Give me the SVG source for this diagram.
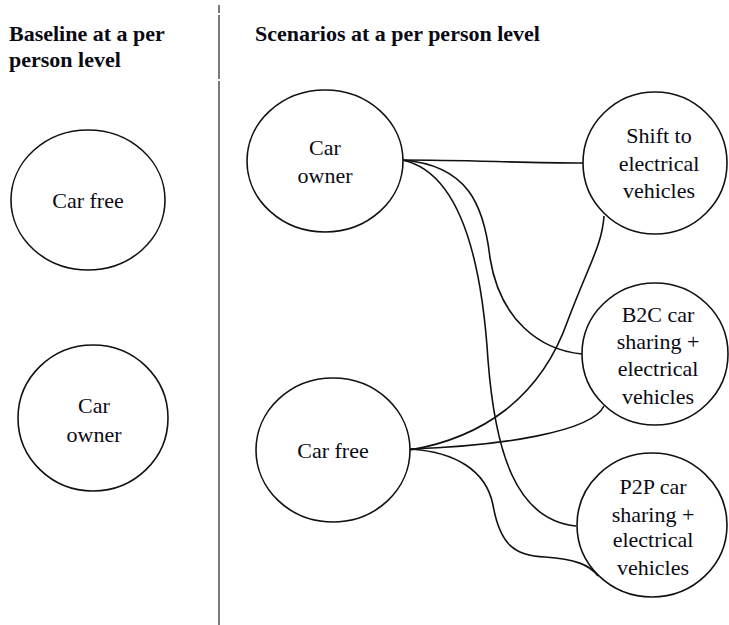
<svg xmlns="http://www.w3.org/2000/svg" width="729" height="625" viewBox="0 0 729 625">
  <style>
    .node { fill: #ffffff; stroke: #111111; stroke-width: 1.6; }
    .label { font-family: "Liberation Serif", "DejaVu Serif", serif; font-size: 22px; font-weight: normal; fill: #0a0a14; text-anchor: middle; }
    .title { font-family: "Liberation Serif", "DejaVu Serif", serif; font-size: 22px; font-weight: bold; fill: #0a0a14; }
    .edge { fill: none; stroke: #111111; stroke-width: 1.6; }
    .divider { stroke: #7a7a7a; stroke-width: 2; }
  </style>
  <rect width="729" height="625" fill="#ffffff"/>

  <!-- column divider -->
  <g id="divider">
    <line class="divider" x1="219" y1="5" x2="219" y2="13"/>
    <line class="divider" x1="219" y1="15" x2="219" y2="79"/>
    <line class="divider" x1="219" y1="81" x2="219" y2="625"/>
  </g>

  <!-- column headings -->
  <g id="headings">
    <text class="title" x="9" y="41">Baseline at a per</text>
    <text class="title" x="9" y="67">person level</text>
    <text class="title" x="255" y="41">Scenarios at a per person level</text>
  </g>

  <!-- connectors -->
  <g id="connectors">
    <path class="edge" d="M402,160 C470,160 520,163 583,163"/>
    <path class="edge" d="M402,160 C468,165 484,205 490,258 C500,320 540,350 582,354"/>
    <path class="edge" d="M402,160 C462,172 482,265 488,360 C495,450 515,520 576,526"/>
    <path class="edge" d="M410,450 C480,438 540,400 568,320 C590,262 602,245 604,216"/>
    <path class="edge" d="M410,449 C500,446 592,432 604,406"/>
    <path class="edge" d="M410,449 C455,452 486,470 493,505 C500,545 515,556 545,557 C575,559 590,565 598,576"/>
  </g>

  <!-- baseline nodes -->
  <g id="baseline-car-free">
    <ellipse class="node" cx="88" cy="200" rx="77" ry="70"/>
    <text class="label" x="88" y="208">Car free</text>
  </g>
  <g id="baseline-car-owner">
    <ellipse class="node" cx="93" cy="418" rx="75" ry="73"/>
    <text class="label" x="94" y="413">Car</text>
    <text class="label" x="94" y="442">owner</text>
  </g>

  <!-- scenario nodes -->
  <g id="scenario-car-owner">
    <ellipse class="node" cx="325" cy="161" rx="78" ry="71"/>
    <text class="label" x="325" y="155">Car</text>
    <text class="label" x="325" y="183">owner</text>
  </g>
  <g id="scenario-car-free">
    <ellipse class="node" cx="333" cy="450" rx="77" ry="72"/>
    <text class="label" x="333" y="458">Car free</text>
  </g>
  <g id="shift-ev">
    <ellipse class="node" cx="655" cy="163" rx="72" ry="71"/>
    <text class="label" x="659" y="143">Shift to</text>
    <text class="label" x="659" y="171">electrical</text>
    <text class="label" x="659" y="198">vehicles</text>
  </g>
  <g id="b2c-ev">
    <ellipse class="node" cx="655" cy="354" rx="73" ry="71"/>
    <text class="label" x="658" y="322">B2C car</text>
    <text class="label" x="658" y="349">sharing +</text>
    <text class="label" x="658" y="376">electrical</text>
    <text class="label" x="658" y="404">vehicles</text>
  </g>
  <g id="p2p-ev">
    <ellipse class="node" cx="652" cy="525" rx="75" ry="72"/>
    <text class="label" x="653" y="494">P2P car</text>
    <text class="label" x="653" y="522">sharing +</text>
    <text class="label" x="653" y="547">electrical</text>
    <text class="label" x="653" y="575">vehicles</text>
  </g>
</svg>
